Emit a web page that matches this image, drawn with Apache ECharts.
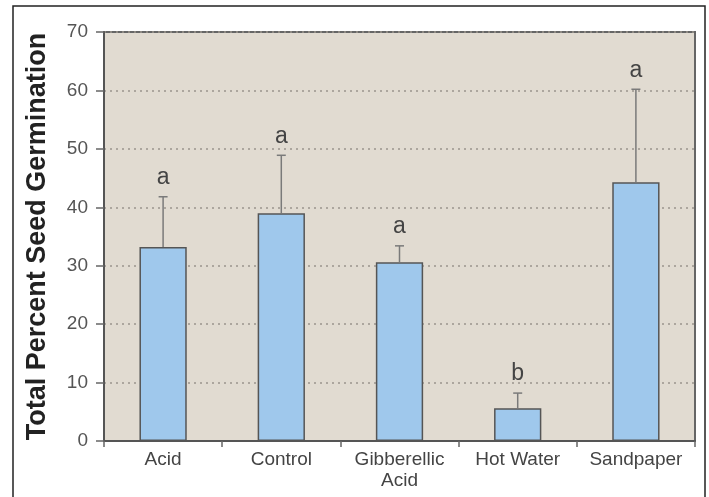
<!DOCTYPE html>
<html>
<head>
<meta charset="utf-8">
<script src="https://cdn.jsdelivr.net/npm/echarts@6/dist/echarts.min.js"></script>
<style>
  html, body { margin: 0; padding: 0; background: #ffffff; }
  #chart { width: 709px; height: 497px; }
</style>
</head>
<body>
<div id="chart"></div>
<script>
// Germination treatments and their mean total germination (%)
const categories = ['Acid', 'Control', 'Gibberellic\nAcid', 'Hot Water', 'Sandpaper'];
const means = [33.2, 39.0, 30.6, 5.6, 44.3];
// Upper error (mean + SE) for each treatment
const upperErrors = [41.8, 48.9, 33.4, 8.2, 60.2];
// Significance group letters
const groupLetters = ['a', 'a', 'a', 'b', 'a'];
const yTicks = [0, 10, 20, 30, 40, 50, 60, 70];

const chart = echarts.init(document.getElementById('chart'), null, { renderer: 'canvas' });

const errorData = categories.map((c, i) => [i, means[i], upperErrors[i]]);

chart.setOption({
  animation: false,
  backgroundColor: '#ffffff',
  textStyle: { fontFamily: 'Liberation Sans, Arial, sans-serif' },
  graphic: [{
    type: 'rect',
    shape: { x: 13, y: 6, width: 692, height: 520 },
    style: { fill: 'none', stroke: '#222', lineWidth: 1.5 },
    silent: true
  }],
  grid: {
    left: 104, right: 14, top: 32, bottom: 56,
    show: true,
    backgroundColor: '#e1dbd1',
    borderColor: '#666',
    borderWidth: 2
  },
  xAxis: {
    type: 'category',
    data: categories,
    axisLine: { lineStyle: { color: '#555', width: 2 } },
    axisTick: { show: true, interval: 0, length: 6, lineStyle: { color: '#666', width: 1.5 } },
    axisLabel: { interval: 0, hideOverlap: false, color: '#444', fontSize: 19, margin: 8, lineHeight: 21 },
    splitLine: { show: false }
  },
  yAxis: {
    type: 'value',
    min: 0, max: 70, interval: 10,
    name: 'Total Percent Seed Germination',
    nameLocation: 'middle',
    nameGap: 53,
    nameTextStyle: { fontSize: 27, fontWeight: 'bold', color: '#222' },
    axisLine: { show: true, lineStyle: { color: '#555', width: 2 } },
    axisTick: { show: true, length: 8, lineStyle: { color: '#666', width: 1.5 } },
    axisLabel: {
      color: '#555', fontSize: 19, margin: 16,
      formatter: v => (yTicks.includes(v) ? String(v) : '')
    },
    splitLine: { show: true, lineStyle: { color: '#9a958d', type: [2, 4], width: 1.5 } }
  },
  series: [
    {
      type: 'bar',
      data: means,
      barWidth: '40%',
      itemStyle: { color: '#9fc8ec', borderColor: '#555', borderWidth: 1.5 },
      z: 2
    },
    {
      type: 'custom',
      data: errorData,
      z: 3,
      renderItem: (params, api) => {
        const x = api.value(0);
        const base = api.coord([x, api.value(1)]);
        const top = api.coord([x, api.value(2)]);
        const cap = 4.5;
        return {
          type: 'group',
          children: [
            {
              type: 'line',
              shape: { x1: base[0], y1: base[1], x2: top[0], y2: top[1] },
              style: { stroke: '#7a7a7a', lineWidth: 1.5 }
            },
            {
              type: 'line',
              shape: { x1: top[0] - cap, y1: top[1], x2: top[0] + cap, y2: top[1] },
              style: { stroke: '#7a7a7a', lineWidth: 1.5 }
            },
            {
              type: 'text',
              style: {
                text: groupLetters[params.dataIndex],
                x: top[0], y: top[1] - 19,
                align: 'center', verticalAlign: 'middle',
                fontSize: 23, fill: '#444',
                fontFamily: 'Liberation Sans, Arial, sans-serif'
              }
            }
          ]
        };
      }
    }
  ]
});
</script>
</body>
</html>
